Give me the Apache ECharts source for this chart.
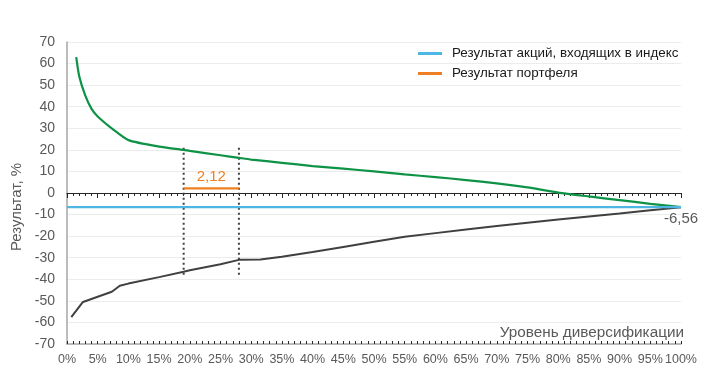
<!DOCTYPE html>
<html>
<head>
<meta charset="utf-8">
<script src="https://cdn.jsdelivr.net/npm/echarts@6/dist/echarts.min.js"></script>
<style>html,body{margin:0;padding:0;background:#fff}#c{width:709px;height:380px}</style>
</head>
<body>
<div id="c"></div>
<script>
// x = level of diversification (%), y = result (%)
var maxX = [1.5, 2, 3, 4, 5, 7.5, 10, 15, 19, 20, 25, 28, 30, 35, 40, 45, 50, 55, 60, 65, 70, 75, 80, 85, 90, 95, 100];
var maxY = [63, 54, 45, 39, 35.5, 29.5, 24.5, 21.5, 20, 19.5, 17.5, 16.3, 15.5, 14, 12.5, 11.3, 10, 8.6, 7.4, 6, 4.5, 2.6, 0.2, -1.6, -3.3, -5, -6.56];
var minX = [0.7, 2.6, 7.3, 8.6, 10, 15, 19, 20, 25, 28, 31.5, 35, 40, 45, 50, 55, 60, 65, 70, 75, 80, 85, 90, 95, 100];
var minY = [-57.5, -50.5, -45.8, -43, -42, -39, -36.5, -35.8, -33, -31, -30.8, -29.6, -27.4, -25, -22.6, -20.3, -18.6, -16.9, -15.3, -13.8, -12.3, -10.9, -9.5, -8, -6.56];
var indexX = [0, 100];
var indexY = [-6.56, -6.56];
var portfolioX = [19, 28];
var portfolioY = [2.12, 2.12];
var guideX = [19, 28];
var guideTop = 21;
var guideBottom = -38;
var xTicks = [0, 100, 5];
var yTicks = [-70, 70, 10];
var seriesNames = ['Результат акций, входящих в индекс', 'Результат портфеля'];
var portfolioLabel = '2,12';
var endLabel = '-6,56';
var yName = 'Результат, %';
var xName = 'Уровень диверсификации';

function pairs(xs, ys) { return xs.map(function (x, i) { return [x, ys[i]]; }); }

var FONT = 'Liberation Sans, Arial, sans-serif';
var chart = echarts.init(document.getElementById('c'), null, {renderer: 'canvas'});
var grid = {left: 67, right: 28, top: 42, bottom: 36};

var option = {
  animation: false,
  textStyle: {fontFamily: FONT},
  grid: grid,
  legend: {
    orient: 'vertical', left: 413, top: 42, itemWidth: 24, itemHeight: 3, itemGap: 7,
    icon: 'rect',
    textStyle: {fontSize: 13.4, color: '#1a1a1a', fontFamily: FONT, padding: [0, 0, 0, 5]},
    data: seriesNames
  },
  xAxis: [
    {
      type: 'value', min: xTicks[0], max: xTicks[1], interval: xTicks[2], position: 'bottom',
      axisLine: {onZero: false, lineStyle: {color: '#a6a6a6', width: 1.5}},
      axisTick: {show: false},
      axisLabel: {formatter: '{value}%', color: '#595959', fontSize: 12.5, margin: 9, fontFamily: FONT},
      splitLine: {show: false}
    },
    {
      type: 'value', min: xTicks[0], max: xTicks[1], interval: xTicks[2], position: 'bottom',
      axisLine: {onZero: true, lineStyle: {color: '#262626', width: 1.2}},
      axisTick: {show: true, length: 5, lineStyle: {color: '#262626'}},
      minorTick: {show: true, splitNumber: 5, length: 3, lineStyle: {color: '#262626'}},
      axisLabel: {show: false}, splitLine: {show: false}
    },
    {
      type: 'value', min: xTicks[0], max: xTicks[1], interval: xTicks[2], position: 'bottom',
      axisLine: {onZero: true, show: false},
      axisTick: {show: true, inside: true, length: 3, lineStyle: {color: '#262626'}},
      minorTick: {show: true, splitNumber: 5, length: 3, lineStyle: {color: '#262626'}},
      axisLabel: {show: false}, splitLine: {show: false}
    }
  ],
  yAxis: {
    type: 'value', min: yTicks[0], max: yTicks[1], interval: yTicks[2],
    axisLine: {show: true, lineStyle: {color: '#a6a6a6', width: 1.5}},
    axisTick: {show: false},
    axisLabel: {color: '#595959', fontSize: 14, margin: 12, fontFamily: FONT},
    splitLine: {lineStyle: {color: '#ececec', width: 1}}
  },
  series: [
    {
      name: 'max', type: 'line', data: pairs(maxX, maxY), showSymbol: false, smooth: 0.2,
      lineStyle: {color: '#0e9346', width: 2.2}, itemStyle: {color: '#0e9346'}, z: 3
    },
    {
      name: 'min', type: 'line', data: pairs(minX, minY), showSymbol: false,
      lineStyle: {color: '#404040', width: 2}, itemStyle: {color: '#404040'}, z: 3
    },
    {
      name: 'guide1', type: 'line', data: [[guideX[0], guideTop], [guideX[0], guideBottom]], showSymbol: false,
      lineStyle: {color: '#404040', width: 2, type: [2, 3]}, z: 2
    },
    {
      name: 'guide2', type: 'line', data: [[guideX[1], guideTop], [guideX[1], guideBottom]], showSymbol: false,
      lineStyle: {color: '#404040', width: 2, type: [2, 3]}, z: 2
    },
    {
      name: seriesNames[0], type: 'line', data: pairs(indexX, indexY), showSymbol: false,
      lineStyle: {color: '#4db6e2', width: 2.2}, itemStyle: {color: '#4db6e2'}, z: 4,
      endLabel: {show: true, formatter: endLabel, color: '#595959', fontSize: 15, fontFamily: FONT, offset: [-25, 12]}
    },
    {
      name: seriesNames[1], type: 'line', data: pairs(portfolioX, portfolioY), showSymbol: false,
      lineStyle: {color: '#f07f23', width: 2.2}, itemStyle: {color: '#f07f23'}, z: 4,
      markPoint: {
        symbol: 'rect', symbolSize: 1, itemStyle: {color: 'rgba(0,0,0,0)'},
        label: {show: true, formatter: portfolioLabel, color: '#f07f23', fontSize: 15, fontFamily: FONT, position: 'top', distance: 4},
        data: [{coord: [(portfolioX[0] + portfolioX[1]) / 2, portfolioY[0]]}]
      }
    }
  ],
  graphic: [
    {
      type: 'text', right: 25, top: 325,
      style: {text: xName, fontSize: 15.3, fill: '#595959', fontFamily: FONT}
    },
    {
      type: 'text', x: 9, y: 207, rotation: Math.PI / 2,
      style: {text: yName, fontSize: 15, fill: '#595959', fontFamily: FONT, align: 'center', verticalAlign: 'top'}
    }
  ]
};
chart.setOption(option);
</script>
</body>
</html>
